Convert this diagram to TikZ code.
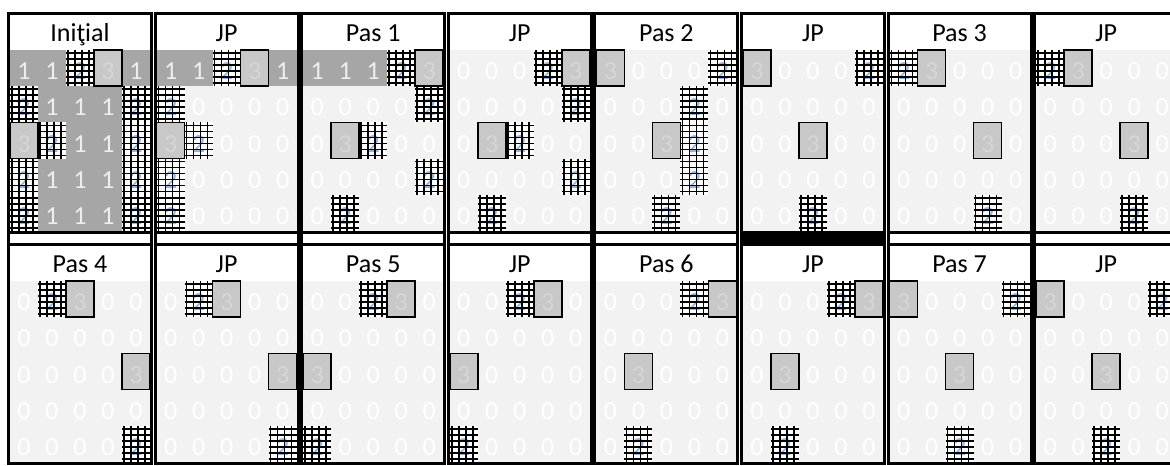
\documentclass[tikz,border=0pt]{standalone}
\usepackage{fontspec}
\setmainfont{Carlito}

\definecolor{onefill}{HTML}{A6A6A6}
\definecolor{onetext}{HTML}{EEEEEE}
\definecolor{zerofill}{HTML}{F2F2F2}
\definecolor{zerotext}{HTML}{FFFFFF}
\definecolor{boxfill}{HTML}{C8C8C8}
\definecolor{boxtext}{HTML}{D6D6D6}
\definecolor{hatchtext}{HTML}{8DB4E2}

\tikzset{
  digit/.style={anchor=base, inner sep=0pt, font=\fontsize{19.5}{20}\selectfont},
  title/.style={anchor=base, inner sep=0pt, font=\fontsize{19.5}{20}\selectfont, text=black},
  frame/.style={draw=black, line width=2.25pt},
  hatch/.style={draw=black, line width=1.3pt},
  boxcell/.style={fill=boxfill, draw=black, line width=1.1pt}
}

% one cell of a panel: left x, top y, node name
\newcommand{\zerocell}[3]{%
  \fill[zerofill] (#1,#2) rectangle ++(28,36.2);
  \node[digit, text=zerotext] (#3) at ({#1+14},{#2+29.7}) {0};}
\newcommand{\onecell}[3]{%
  \fill[onefill] (#1,#2) rectangle ++(28,36.2);
  \node[digit, text=onetext] (#3) at ({#1+14},{#2+29.7}) {1};}
\newcommand{\hatchcell}[3]{%
  \fill[white] (#1,#2) rectangle ++(28,36.2);
  \node[digit, text=hatchtext] (#3) at ({#1+14},{#2+29.7}) {2};
  \foreach \hx in {2,9,16,23} \draw[hatch] ({#1+\hx},#2) -- ++(0,36.2);
  \foreach \hy in {3,9,15,21,27,33} \draw[hatch] (#1,{#2+\hy}) -- ++(28,0);}
\newcommand{\boxcell}[3]{%
  \filldraw[boxcell] (#1,#2) rectangle ++(28,36.2);
  \node[digit, text=boxtext] (#3) at ({#1+14},{#2+29.7}) {3};}

% panel: name, column, row, title, cells (0/1, 2 = hatched, 3 = box)
\newcommand{\drawpanel}[5]{%
  \pgfmathsetmacro{\panx}{10+#2*146.6}
  \pgfmathsetmacro{\pany}{#3==0 ? 15 : 246}
  \node[title] (#1) at ({\panx+70},{\pany+26.5}) {#4};
  \foreach \cellrow [count=\r from 0] in {#5} {
    \foreach \code [count=\k from 0] in \cellrow {
      \pgfmathsetmacro{\cx}{\panx+28*\k}
      \pgfmathsetmacro{\cy}{\pany+35+36.2*\r}
      \ifcase\code\relax
        \zerocell{\cx}{\cy}{#1-\r-\k}\or
        \onecell{\cx}{\cy}{#1-\r-\k}\or
        \hatchcell{\cx}{\cy}{#1-\r-\k}\or
      \fi
    }
  }
  \draw[frame] ({\panx-1.5},{\pany-1.5}) rectangle ({\panx+141.5},{\pany+217.5});
  \foreach \cellrow [count=\r from 0] in {#5} {
    \foreach \code [count=\k from 0] in \cellrow {
      \pgfmathsetmacro{\cx}{\panx+28*\k}
      \pgfmathsetmacro{\cy}{\pany+35+36.2*\r}
      \ifnum\code=3 \boxcell{\cx}{\cy}{#1-\r-\k}\fi
    }
  }
}

\begin{document}
\begin{tikzpicture}[x=0.75pt, y=-0.75pt]
  \useasboundingbox (0,0) rectangle (1170,466);
  \clip (0,0) rectangle (1170,466);
  \fill[white] (0,0) rectangle (1170,466);

  % strips between the two rows
  \foreach \i in {0,...,7} {
    \pgfmathsetmacro{\panx}{10+\i*146.6}
    \ifnum\i=5
      \filldraw[frame, fill=black] ({\panx-1.5},232.5) rectangle ({\panx+141.5},244.5);
    \else
      \filldraw[frame, fill=white] ({\panx-1.5},232.5) rectangle ({\panx+141.5},244.5);
    \fi
  }

  % top row
  \drawpanel{init}{0}{0}{Iniţial}{{1,1,2,3,1},{2,1,1,1,2},{3,2,1,1,2},{2,1,1,1,2},{2,1,1,1,2}}
  \drawpanel{jpa}{1}{0}{JP}{{1,1,2,3,1},{2,0,0,0,0},{3,2,0,0,0},{2,0,0,0,0},{2,0,0,0,0}}
  \drawpanel{pas1}{2}{0}{Pas 1}{{1,1,1,2,3},{0,0,0,0,2},{0,3,2,0,0},{0,0,0,0,2},{0,2,0,0,0}}
  \drawpanel{jpb}{3}{0}{JP}{{0,0,0,2,3},{0,0,0,0,2},{0,3,2,0,0},{0,0,0,0,2},{0,2,0,0,0}}
  \drawpanel{pas2}{4}{0}{Pas 2}{{3,0,0,0,2},{0,0,0,2,0},{0,0,3,2,0},{0,0,0,2,0},{0,0,2,0,0}}
  \drawpanel{jpc}{5}{0}{JP}{{3,0,0,0,2},{0,0,0,0,0},{0,0,3,0,0},{0,0,0,0,0},{0,0,2,0,0}}
  \drawpanel{pas3}{6}{0}{Pas 3}{{2,3,0,0,0},{0,0,0,0,0},{0,0,0,3,0},{0,0,0,0,0},{0,0,0,2,0}}
  \drawpanel{jpd}{7}{0}{JP}{{2,3,0,0,0},{0,0,0,0,0},{0,0,0,3,0},{0,0,0,0,0},{0,0,0,2,0}}

  % bottom row
  \drawpanel{pas4}{0}{1}{Pas 4}{{0,2,3,0,0},{0,0,0,0,0},{0,0,0,0,3},{0,0,0,0,0},{0,0,0,0,2}}
  \drawpanel{jpe}{1}{1}{JP}{{0,2,3,0,0},{0,0,0,0,0},{0,0,0,0,3},{0,0,0,0,0},{0,0,0,0,2}}
  \drawpanel{pas5}{2}{1}{Pas 5}{{0,0,2,3,0},{0,0,0,0,0},{3,0,0,0,0},{0,0,0,0,0},{2,0,0,0,0}}
  \drawpanel{jpf}{3}{1}{JP}{{0,0,2,3,0},{0,0,0,0,0},{3,0,0,0,0},{0,0,0,0,0},{2,0,0,0,0}}
  \drawpanel{pas6}{4}{1}{Pas 6}{{0,0,0,2,3},{0,0,0,0,0},{0,3,0,0,0},{0,0,0,0,0},{0,2,0,0,0}}
  \drawpanel{jpg}{5}{1}{JP}{{0,0,0,2,3},{0,0,0,0,0},{0,3,0,0,0},{0,0,0,0,0},{0,2,0,0,0}}
  \drawpanel{pas7}{6}{1}{Pas 7}{{3,0,0,0,2},{0,0,0,0,0},{0,0,3,0,0},{0,0,0,0,0},{0,0,2,0,0}}
  \drawpanel{jph}{7}{1}{JP}{{3,0,0,0,2},{0,0,0,0,0},{0,0,3,0,0},{0,0,0,0,0},{0,0,2,0,0}}
\end{tikzpicture}
\end{document}
